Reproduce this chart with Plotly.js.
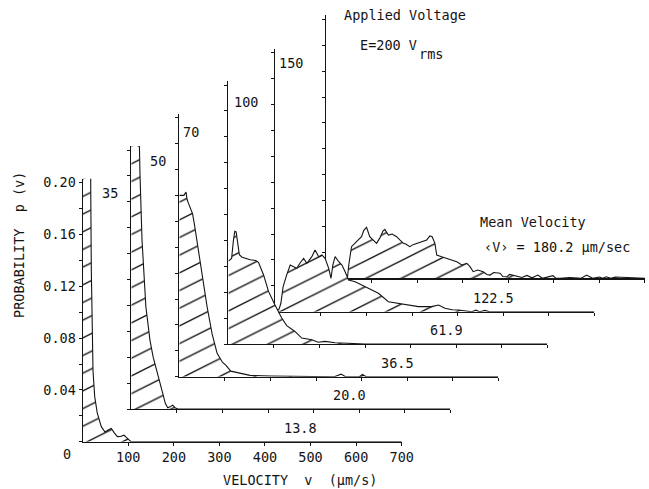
<!DOCTYPE html>
<html><head><meta charset="utf-8">
<script src="https://cdn.plot.ly/plotly-3.0.1.min.js"></script>
<style>html,body{margin:0;padding:0;background:#fff}#chart{width:649px;height:489px}</style>
</head><body><div id="chart"></div>
<script>
// ---------------- data ----------------
const voltages = ['35', '50', '70', '100', '150', '200'];
const meanVelocities = ['13.8', '20.0', '36.5', '61.9', '122.5', '180.2'];

const v35 = [0, 17.5, 18.9, 20.4, 22.6, 26.3, 32, 40.8, 49, 56, 62.7, 69, 76, 83, 90.6, 97, 106, 700];
const p35 = [0.205, 0.204, 0.133, 0.081, 0.055, 0.035, 0.022, 0.0116, 0.0075, 0.009, 0.0103, 0.007, 0.0039, 0.004, 0.005, 0.003, 0, 0];

const v50 = [0, 17.8, 19, 23.5, 32, 41, 48, 58, 64, 69, 74.6, 80, 86, 91, 96, 102, 700];
const p50 = [0.2046, 0.203, 0.182, 0.1305, 0.079, 0.053, 0.04, 0.0276, 0.019, 0.012, 0.0044, 0.001, 0.002, 0.003, 0.001, 0, 0];

const v70 = [0, 10, 14.7, 17, 20, 24, 29, 33, 40, 50, 61, 72, 83, 95, 102, 113, 124, 130, 138, 155, 200, 340, 355, 365, 395, 402, 410, 700];
const p70 = [0.14, 0.14, 0.1425, 0.137, 0.134, 0.131, 0.126, 0.118, 0.101, 0.080, 0.054, 0.033, 0.018, 0.011, 0.009, 0.0043, 0.0034, 0.0025, 0.0018, 0.001, 0.0005, 0, 0.002, 0, 0, 0.0018, 0, 0];

const v100 = [0, 7, 11, 14, 17, 20, 24, 30, 37, 48, 60, 66, 77, 88, 102, 117, 128, 146, 161, 170, 183, 197, 212, 234, 260, 300, 700];
const p100 = [0.064, 0.066, 0.080, 0.087, 0.0865, 0.080, 0.069, 0.067, 0.066, 0.065, 0.0645, 0.063, 0.0535, 0.0406, 0.0303, 0.0201, 0.0142, 0.0097, 0.0046, 0.004, 0.0033, 0.0014, 0.002, 0.001, 0.0008, 0, 0];

const v150 = [0, 8, 12, 17, 24.6, 32.5, 40, 47, 54, 62, 69, 80, 87, 95, 102, 109, 117, 122, 126, 131, 139, 146, 153, 160.5, 175, 190, 204, 226, 248, 270, 292, 314, 343, 358, 372, 388, 402, 431, 440, 448, 460, 470, 700];
const p150 = [0, 0.002, 0.0065, 0.0193, 0.0283, 0.036, 0.0347, 0.0335, 0.0376, 0.0412, 0.0374, 0.0425, 0.0476, 0.0425, 0.0438, 0.0412, 0.0335, 0.0258, 0.036, 0.0425, 0.0386, 0.036, 0.0309, 0.0245, 0.0232, 0.0206, 0.018, 0.0142, 0.0077, 0.0065, 0.0052, 0.0039, 0.0039, 0.0052, 0.0026, 0.0015, 0.0013, 0, 0.0012, 0, 0.001, 0, 0];

const v200 = [0, 44, 47, 50, 56, 67, 78, 83, 89, 96, 103, 111, 118, 125, 129, 137, 145, 155, 162, 170, 175, 184, 191, 199, 208, 221, 228, 233, 239, 243, 252, 265, 274, 287, 298, 309, 316, 323, 333, 345, 353, 360, 368, 382, 388, 397, 403, 410, 419, 430, 441, 452, 465, 475, 498, 505, 513, 535, 560, 572, 585, 600, 607, 615, 625, 635, 700];
const p200 = [0, 0, 0, 0.0103, 0.0244, 0.0283, 0.0321, 0.037, 0.0394, 0.0321, 0.0296, 0.027, 0.031, 0.0365, 0.0378, 0.0334, 0.0342, 0.0321, 0.0296, 0.027, 0.0265, 0.0244, 0.026, 0.027, 0.028, 0.0296, 0.0327, 0.0321, 0.027, 0.018, 0.0168, 0.0154, 0.0145, 0.0128, 0.0103, 0.0116, 0.009, 0.0051, 0.0064, 0.0051, 0.003, 0.0025, 0.0045, 0.0039, 0.0014, 0.0012, 0.003, 0.0025, 0.0018, 0.0006, 0.0022, 0.0004, 0.0025, 0, 0.002, 0, 0, 0.0006, 0, 0.0025, 0, 0.001, 0, 0.0012, 0, 0.001, 0];

const xTickVals = [100, 200, 300, 400, 500, 600, 700];
const xTickText = ['100', '200', '300', '400', '500', '600', '700'];
const yTickVals = [0.04, 0.08, 0.12, 0.16, 0.20];
const yTickText = ['0.04', '0.08', '0.12', '0.16', '0.20'];

// ---------------- layout geometry (pixels) ----------------
const W = 649, H = 489;
const origins = [[82.7, 441.7], [131.3, 409], [179.3, 376.7], [228.4, 344], [275.4, 311.7], [326, 278.3]];
const PX_PER_V = 0.4557, PX_PER_P = 1295;
const VMAX = 700, PMAX = 0.203;
const voltLabelPos = [[38, 0.192], [37, 0.1915], [3, 0.189], [8, 0.1866], [4, 0.192]];
const FONT = 'DejaVu Sans Mono, monospace';
const INK = '#141414';

const series = [[v35, p35], [v50, p50], [v70, p70], [v100, p100], [v150, p150], [v200, p200]];

const layout = {
  width: W, height: H,
  margin: {l: 0, r: 0, t: 0, b: 0, pad: 0},
  paper_bgcolor: '#fff', plot_bgcolor: 'rgba(0,0,0,0)',
  showlegend: false,
  font: {family: FONT, size: 13.5, color: INK},
  annotations: []
};
const data = [];

for (let i = series.length - 1; i >= 0; i--) {
  const n = 6 - i;
  const s = n === 1 ? '' : String(n);
  const [ox, oy] = origins[i];
  const front = (i === 0);
  layout['xaxis' + s] = {
    domain: [ox / W, (ox + VMAX * PX_PER_V) / W],
    range: [0, VMAX], anchor: 'y' + s,
    showline: true, linecolor: INK, linewidth: 1.2,
    showgrid: false, zeroline: false,
    ticks: 'outside', ticklen: 3, tickwidth: 1, tickcolor: INK,
    tickmode: 'array', tickvals: xTickVals, ticktext: xTickText,
    showticklabels: front, tickfont: {family: FONT, size: 13.5, color: INK},
    fixedrange: true
  };
  layout['yaxis' + s] = {
    domain: [(H - oy) / H, (H - oy + PMAX * PX_PER_P) / H],
    range: [0, PMAX], anchor: 'x' + s,
    showline: true, linecolor: INK, linewidth: 1.2,
    showgrid: false, zeroline: false,
    ticks: 'outside', ticklen: 3, tickwidth: 1, tickcolor: INK,
    tickmode: 'array', tickvals: yTickVals, ticktext: yTickText,
    minor: {ticks: 'outside', ticklen: 3, tickwidth: 1, tickcolor: INK, tickmode: 'linear', tick0: 0, dtick: 0.02, showgrid: false},
    showticklabels: front, tickfont: {family: FONT, size: 13.5, color: INK},
    fixedrange: true
  };
  data.push({
    type: 'scatter', mode: 'lines',
    x: series[i][0], y: series[i][1],
    xaxis: 'x' + s, yaxis: 'y' + s,
    line: {color: INK, width: 1.1},
    fill: 'tozeroy', fillcolor: '#fff',
    fillpattern: {shape: '/', size: 12.5, solidity: 0.09, fgcolor: INK, bgcolor: '#fff'},
    hoverinfo: 'skip'
  });

  if (i < 5) {
    layout.annotations.push({
      xref: 'x' + s, yref: 'y' + s, x: voltLabelPos[i][0], y: voltLabelPos[i][1],
      text: voltages[i], showarrow: false, xanchor: 'left', yanchor: 'middle'
    });
    layout.annotations.push({
      xref: 'x' + s, yref: 'y' + s, x: 478, y: 0.0105,
      text: meanVelocities[i], showarrow: false, xanchor: 'center', yanchor: 'middle'
    });
  } else {
    layout.annotations.push({
      xref: 'x' + s, yref: 'y' + s, x: 36, y: 0.203,
      text: 'Applied Voltage', showarrow: false, xanchor: 'left', yanchor: 'middle'
    });
    layout.annotations.push({
      xref: 'x' + s, yref: 'y' + s, x: 71, y: 0.1805,
      text: 'E=' + voltages[i] + ' V', showarrow: false, xanchor: 'left', yanchor: 'middle'
    });
    layout.annotations.push({
      xref: 'x' + s, yref: 'y' + s, x: 199, y: 0.1735,
      text: 'rms', showarrow: false, xanchor: 'left', yanchor: 'middle'
    });
    layout.annotations.push({
      xref: 'x' + s, yref: 'y' + s, x: 334, y: 0.0434,
      text: 'Mean Velocity', showarrow: false, xanchor: 'left', yanchor: 'middle'
    });
    layout.annotations.push({
      xref: 'x' + s, yref: 'y' + s, x: 342, y: 0.0241,
      text: '\u2039V\u203a = ' + meanVelocities[i] + ' \u00b5m/sec', showarrow: false, xanchor: 'left', yanchor: 'middle'
    });
  }
}

layout.annotations.push({
  xref: 'paper', yref: 'paper', x: 66.5 / W, y: (H - 453.5) / H,
  text: '0', showarrow: false, xanchor: 'center', yanchor: 'middle'
});
layout.annotations.push({
  xref: 'paper', yref: 'paper', x: 300 / W, y: (H - 480) / H,
  text: 'VELOCITY\u00a0\u00a0v\u00a0\u00a0(\u00b5m/s)', showarrow: false, xanchor: 'center', yanchor: 'middle'
});
layout.annotations.push({
  xref: 'paper', yref: 'paper', x: 19 / W, y: (H - 245) / H,
  text: 'PROBABILITY\u00a0\u00a0p\u00a0(v)', textangle: -90, showarrow: false, xanchor: 'center', yanchor: 'middle'
});

Plotly.newPlot('chart', data, layout, {staticPlot: true, displayModeBar: false}).then(function (gd) {
  try {
    gd.querySelectorAll('pattern').forEach(function (p) { p.setAttribute('patternTransform', 'scale(2,1)'); });
  } catch (e) {}
});
</script>
</body></html>
